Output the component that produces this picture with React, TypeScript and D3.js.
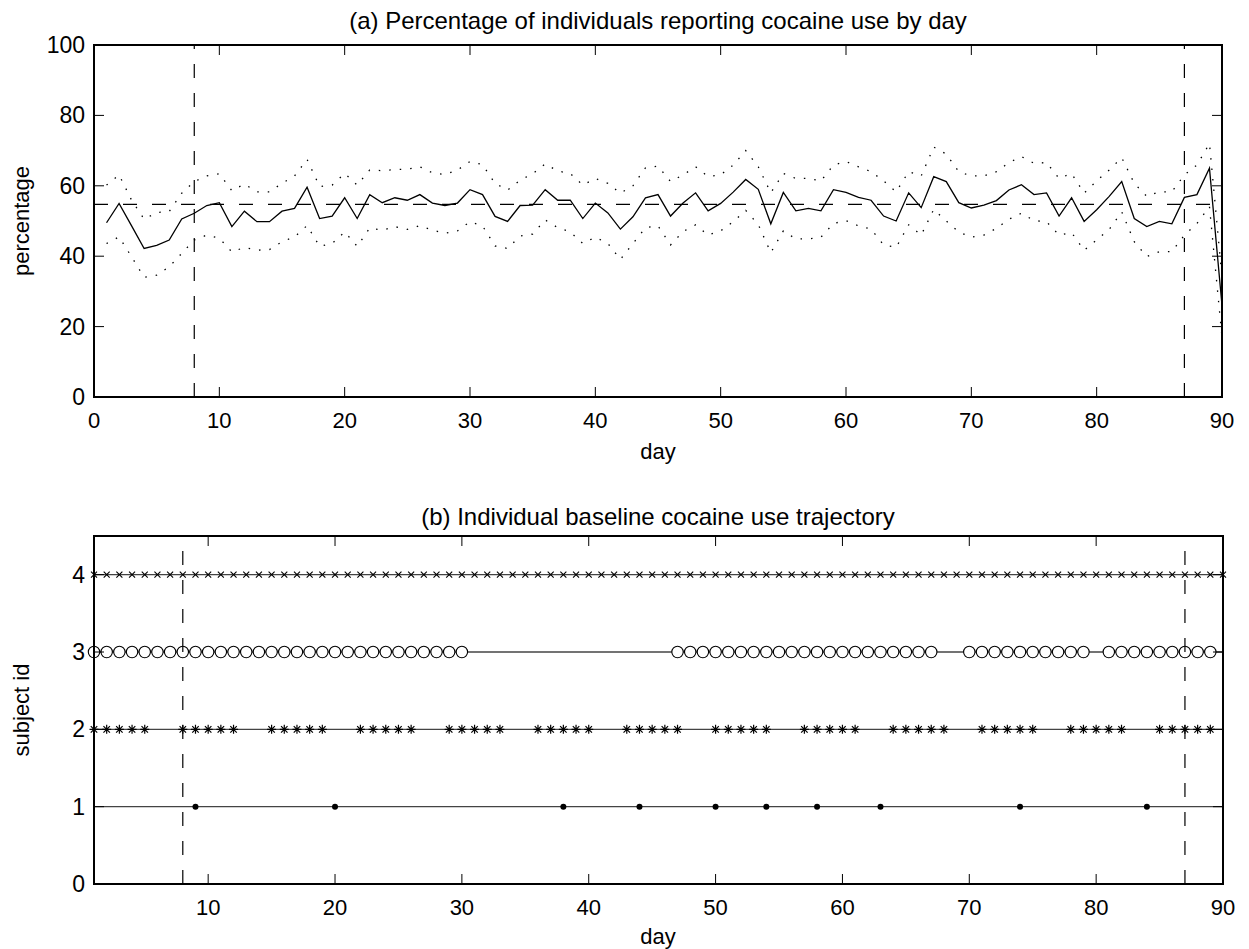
import * as d3 from 'd3'

// day index 1..90
const days = d3.range(1, 91)

// (a) percentage reporting use
const pct = [
  49.5, 55.0, 48.6, 42.2, 43.1, 44.6, 50.6, 52.2, 54.4, 55.2,
  48.4, 52.8, 49.8, 49.8, 52.8, 53.6, 59.6, 50.7, 51.4, 56.6,
  50.7, 57.5, 55.2, 56.6, 55.9, 57.5, 55.1, 54.4, 55.1, 58.9,
  57.5, 51.3, 49.9, 54.4, 54.5, 58.9, 55.9, 55.9, 50.7, 55.1,
  52.3, 47.7, 51.2, 56.6, 57.5, 51.4, 55.1, 58.0, 52.9, 55.0,
  58.2, 61.8, 59.0, 49.2, 58.1, 52.9, 53.6, 52.9, 58.9, 58.1,
  56.7, 55.9, 51.4, 50.0, 58.0, 53.8, 62.6, 61.2, 55.2, 53.7,
  54.5, 55.8, 58.8, 60.3, 57.5, 58.0, 51.4, 56.6, 49.9, 53.2,
  57.0, 61.2, 50.7, 48.4, 49.9, 49.2, 56.7, 57.5, 65.0, 26.0,
]
const upper = [
  60.2, 63.1, 55.9, 50.5, 52.4, 52.7, 57.9, 61.2, 62.8, 63.4,
  58.6, 60.5, 58.3, 58.3, 60.7, 62.8, 67.5, 59.8, 60.2, 63.5,
  60.2, 64.5, 64.3, 64.6, 64.7, 65.4, 63.7, 63.2, 64.5, 66.9,
  66.0, 60.7, 58.8, 61.6, 63.4, 66.2, 64.2, 63.5, 60.2, 62.1,
  60.7, 57.9, 60.0, 65.1, 65.6, 61.2, 63.1, 65.4, 62.6, 63.1,
  65.9, 70.0, 65.4, 58.0, 63.5, 62.1, 62.1, 61.4, 65.9, 66.9,
  65.4, 64.0, 61.4, 58.3, 64.0, 62.8, 71.0, 69.0, 64.0, 62.8,
  62.8, 64.0, 66.6, 68.3, 66.4, 66.6, 62.1, 63.5, 57.9, 61.4,
  64.5, 68.0, 60.7, 57.0, 58.3, 58.3, 63.1, 65.9, 72.0, 34.0,
]
const lower = [
  43.6, 45.5, 39.8, 34.0, 34.6, 37.0, 40.8, 44.6, 46.0, 45.1,
  41.2, 42.5, 41.7, 41.9, 44.1, 45.5, 48.7, 42.8, 43.6, 46.9,
  42.8, 48.0, 47.4, 48.4, 47.6, 48.7, 47.4, 46.5, 47.2, 49.8,
  48.6, 42.9, 42.2, 45.7, 46.3, 50.3, 48.1, 46.9, 43.6, 45.4,
  43.6, 39.1, 43.6, 48.1, 48.6, 43.2, 47.0, 48.9, 46.0, 47.2,
  49.8, 53.0, 49.0, 41.0, 47.2, 44.9, 44.9, 45.4, 49.3, 50.1,
  48.6, 47.7, 43.2, 42.5, 48.9, 46.0, 53.3, 50.0, 46.9, 45.4,
  46.0, 47.9, 50.5, 52.2, 50.1, 49.8, 46.0, 46.7, 41.7, 44.6,
  47.6, 52.6, 44.1, 39.9, 41.3, 41.3, 46.0, 49.3, 54.1, 17.0,
]
const meanPct = 54.7
const cutDays = [8, 87]

const xTicksA = [0, 10, 20, 30, 40, 50, 60, 70, 80, 90]
const yTicksA = [0, 20, 40, 60, 80, 100]
const xTicksB = [10, 20, 30, 40, 50, 60, 70, 80, 90]
const yTicksB = [0, 1, 2, 3, 4]

// (b) days with reported use, per subject
const subj1Days = [9, 20, 38, 44, 50, 54, 58, 63, 74, 84]
const subj2Days = [
  1, 2, 3, 4, 5, 8, 9, 10, 11, 12, 15, 16, 17, 18, 19, 22, 23, 24, 25, 26,
  29, 30, 31, 32, 33, 36, 37, 38, 39, 40, 43, 44, 45, 46, 47, 50, 51, 52, 53, 54,
  57, 58, 59, 60, 61, 64, 65, 66, 67, 68, 71, 72, 73, 74, 75, 78, 79, 80, 81, 82,
  85, 86, 87, 88, 89,
]
const subj3Days = [
  1, 2, 3, 4, 5, 6, 7, 8, 9, 10, 11, 12, 13, 14, 15, 16, 17, 18, 19, 20,
  21, 22, 23, 24, 25, 26, 27, 28, 29, 30,
  47, 48, 49, 50, 51, 52, 53, 54, 55, 56, 57, 58, 59, 60, 61, 62, 63, 64, 65, 66, 67,
  70, 71, 72, 73, 74, 75, 76, 77, 78, 79,
  81, 82, 83, 84, 85, 86, 87, 88, 89,
]
const subj4Days = days

const FONT = '"Liberation Sans", Arial, Helvetica, sans-serif'
const TICK = 10

const App = () => {
  // panel (a)
  const xA = d3.scaleLinear().domain([0, 90]).range([94, 1222])
  const yA = d3.scaleLinear().domain([0, 100]).range([397, 45])
  // panel (b)
  const xB = d3.scaleLinear().domain([1, 90]).range([94, 1223])
  const yB = d3.scaleLinear().domain([0, 4.5]).range([884, 536])

  const lineA = (vals) =>
    d3.line().x((d, i) => xA(days[i])).y((d) => yA(d))(vals)

  const star = (cx, cy, r) => {
    const k = r * 0.72
    return `M${cx - r},${cy}L${cx + r},${cy}M${cx},${cy - r}L${cx},${cy + r}` +
      `M${cx - k},${cy - k}L${cx + k},${cy + k}M${cx - k},${cy + k}L${cx + k},${cy - k}`
  }
  const cross = (cx, cy, r) =>
    `M${cx - r},${cy - r}L${cx + r},${cy + r}M${cx - r},${cy + r}L${cx + r},${cy - r}`

  const frame = (x, y, xt, yt) => {
    const [x0, x1] = x.range()
    const [y0, y1] = y.range()
    return (
      <g>
        {xt.map((t) => (
          <g key={'xt' + t}>
            <line x1={x(t)} x2={x(t)} y1={y0} y2={y0 - TICK} stroke="#000" strokeWidth={1} />
            <line x1={x(t)} x2={x(t)} y1={y1} y2={y1 + TICK} stroke="#000" strokeWidth={1} />
            <text x={x(t)} y={y0 + 31} textAnchor="middle" fontSize={22} fontFamily={FONT}>{t}</text>
          </g>
        ))}
        {yt.map((t) => (
          <g key={'yt' + t}>
            <line x1={x0} x2={x0 + TICK} y1={y(t)} y2={y(t)} stroke="#000" strokeWidth={1} />
            <line x1={x1} x2={x1 - TICK} y1={y(t)} y2={y(t)} stroke="#000" strokeWidth={1} />
            <text x={85} y={y(t) + 8} textAnchor="end" fontSize={23} fontFamily={FONT}>{t}</text>
          </g>
        ))}
        <rect x={x0} y={y1} width={x1 - x0} height={y0 - y1} fill="none" stroke="#000" strokeWidth={2} />
      </g>
    )
  }

  return (
    <svg width={1249} height={949} style={{ position: 'absolute', left: 0, top: 0, background: '#fff' }}>
      <rect width={1249} height={949} fill="#fff" />

      {/* (a) */}
      <text x={658} y={29} textAnchor="middle" fontSize={24} fontFamily={FONT}>
        (a) Percentage of individuals reporting cocaine use by day
      </text>
      <line x1={xA(0)} x2={xA(90)} y1={yA(meanPct)} y2={yA(meanPct)} stroke="#000" strokeWidth={1.2} strokeDasharray="14,15" />
      {cutDays.map((d) => (
        <line key={'ca' + d} x1={xA(d)} x2={xA(d)} y1={yA(0)} y2={yA(100)} stroke="#000" strokeWidth={1.2} strokeDasharray="14,15" />
      ))}
      <path d={lineA(upper)} fill="none" stroke="#000" strokeWidth={1.3} strokeDasharray="1.5,9" />
      <path d={lineA(lower)} fill="none" stroke="#000" strokeWidth={1.3} strokeDasharray="1.5,9" />
      <path d={lineA(pct)} fill="none" stroke="#000" strokeWidth={1.3} />
      {frame(xA, yA, xTicksA, yTicksA)}
      <text x={658} y={459} textAnchor="middle" fontSize={22} fontFamily={FONT}>day</text>
      <text transform="translate(29,221) rotate(-90)" textAnchor="middle" fontSize={22} fontFamily={FONT}>percentage</text>

      {/* (b) */}
      <text x={658} y={525} textAnchor="middle" fontSize={24} fontFamily={FONT}>
        (b) Individual baseline cocaine use trajectory
      </text>
      {[1, 2, 3, 4].map((s) => (
        <line key={'row' + s} x1={xB(1)} x2={xB(90)} y1={yB(s)} y2={yB(s)} stroke="#444" strokeWidth={1.4} />
      ))}
      {subj1Days.map((d) => (
        <circle key={'s1' + d} cx={xB(d)} cy={yB(1)} r={3} fill="#000" />
      ))}
      {subj2Days.map((d) => (
        <path key={'s2' + d} d={star(xB(d), yB(2), 4.5)} stroke="#000" strokeWidth={1.2} fill="none" />
      ))}
      {subj3Days.map((d) => (
        <circle key={'s3' + d} cx={xB(d)} cy={yB(3)} r={5.7} fill="#fff" stroke="#000" strokeWidth={1.1} />
      ))}
      {subj4Days.map((d) => (
        <path key={'s4' + d} d={cross(xB(d), yB(4), 3)} stroke="#000" strokeWidth={1.1} fill="none" />
      ))}
      {cutDays.map((d) => (
        <line key={'cb' + d} x1={xB(d)} x2={xB(d)} y1={yB(0)} y2={yB(4.5)} stroke="#000" strokeWidth={1.2} strokeDasharray="14,15" />
      ))}
      {frame(xB, yB, xTicksB, yTicksB)}
      <text x={658} y={944} textAnchor="middle" fontSize={22} fontFamily={FONT}>day</text>
      <text transform="translate(29,710) rotate(-90)" textAnchor="middle" fontSize={22} fontFamily={FONT}>subject id</text>
    </svg>
  )
}

export default App
